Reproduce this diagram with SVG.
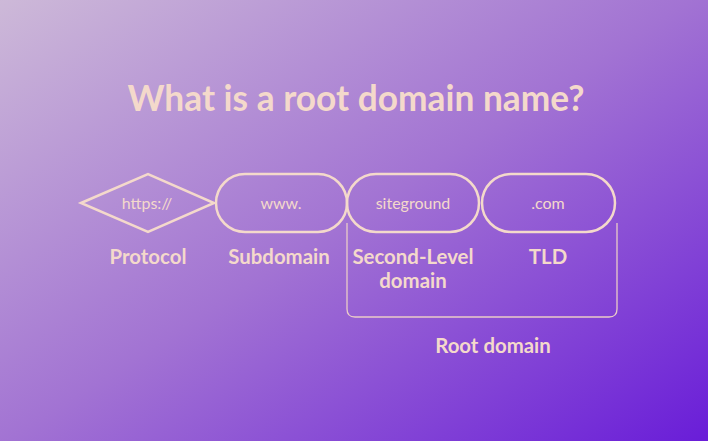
<svg xmlns="http://www.w3.org/2000/svg" width="708" height="441" viewBox="0 0 708 441">
<style>
.t{font-family:Lato,"Liberation Sans",sans-serif;fill:#F4D9CB;text-anchor:middle}
.title{font-size:35.3px;font-weight:700}
.lbl{font-size:20.4px;font-weight:700}
.in{font-size:16px;font-weight:400}
.sh{fill:none;stroke:#F4D9CB;stroke-width:2.5}
.br{fill:none;stroke:#EACBC8;stroke-width:1.3}
</style>
<defs>
<linearGradient id="bg" x1="0" y1="0" x2="450" y2="700" gradientUnits="userSpaceOnUse">
<stop offset="0" stop-color="#CDB9D8"/>
<stop offset="0.45" stop-color="#A273D3"/>
<stop offset="0.9" stop-color="#6A1ED8"/>
</linearGradient>
</defs>
<rect width="708" height="441" fill="url(#bg)"/>
<text class="t title" x="356" y="111">What is a root domain name?</text>
<g id="connectors">
<path class="br" d="M347,223 V309 Q347,317 355,317 H609 Q617,317 617,309 V223"/>
</g>
<g id="protocol">
<polygon class="sh" points="81,203 148,174 214,203 148,232"/>
<text class="t in" x="147" y="209">https://</text>
<text class="t lbl" x="148" y="264">Protocol</text>
</g>
<g id="subdomain">
<rect class="sh" x="216" y="174" width="131" height="58" rx="29"/>
<text class="t in" x="281" y="209">www.</text>
<text class="t lbl" x="279" y="264">Subdomain</text>
</g>
<g id="second-level">
<rect class="sh" x="347" y="174" width="132" height="58" rx="29"/>
<text class="t in" x="413" y="209">siteground</text>
<text class="t lbl" x="413" y="264">Second-Level</text>
<text class="t lbl" x="413" y="288">domain</text>
</g>
<g id="tld">
<rect class="sh" x="482" y="174" width="133" height="58" rx="29"/>
<text class="t in" x="548" y="209">.com</text>
<text class="t lbl" x="548" y="264">TLD</text>
</g>
<g id="root-domain">
<text class="t lbl" x="493" y="353">Root domain</text>
</g>
</svg>
